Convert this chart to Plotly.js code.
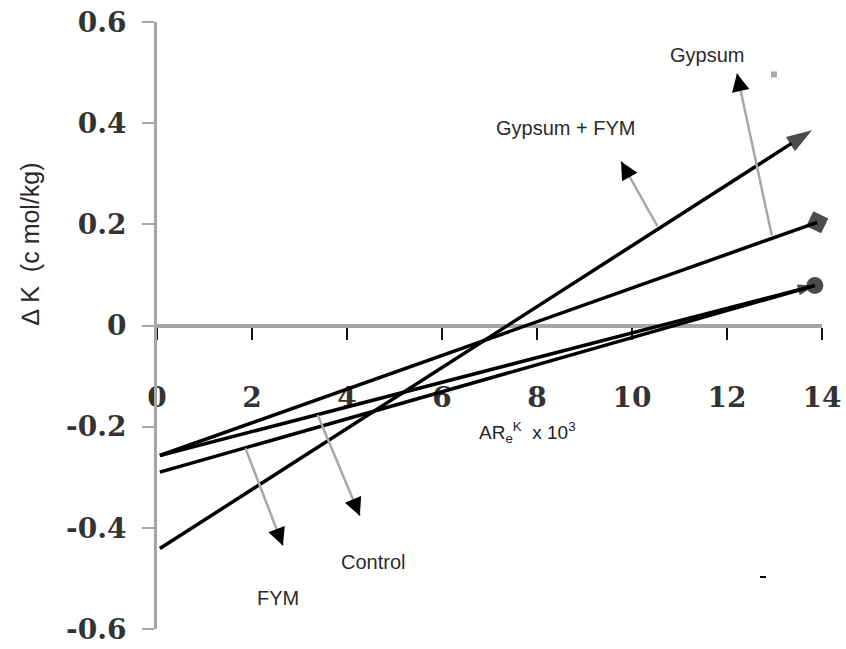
<!DOCTYPE html>
<html>
<head>
<meta charset="utf-8">
<script src="https://cdn.plot.ly/plotly-3.0.1.min.js"></script>
<style>
  html, body { margin: 0; padding: 0; background: #ffffff; }
  #chart { width: 846px; height: 649px; }
</style>
</head>
<body>
<div id="chart"></div>
<script>
// Fitted lines of potassium change against activity ratio, one per treatment
const treatments = ['Gypsum + FYM', 'Gypsum', 'Control', 'FYM'];

const xGypsumFym = [0.06, 13.79];
const yGypsumFym = [-0.441, 0.386];

const xGypsum = [0.06, 13.9];
const yGypsum = [-0.257, 0.204];

const xControl = [0.06, 13.85];
const yControl = [-0.257, 0.079];

const xFym = [0.06, 13.85];
const yFym = [-0.29, 0.079];

const xTickVals = [0, 2, 4, 6, 8, 10, 12, 14];
const yTickVals = [-0.6, -0.4, -0.2, 0, 0.2, 0.4, 0.6];
const yTickText = ['-0.6', '-0.4', '-0.2', '0', '0.2', '0.4', '0.6'];

// Callout labels: text position, arrow head, arrow tail (on the line)
const labelText = ['Gypsum', 'Gypsum + FYM', 'Control', 'FYM'];
const labelX = [11.58, 8.59, 4.55, 2.55];
const labelY = [0.534, 0.391, -0.467, -0.538];
const headX = [12.21, 9.77, 4.27, 2.65];
const headY = [0.498, 0.324, -0.376, -0.435];
const tailX = [12.95, 10.55, 3.37, 1.85];
const tailY = [0.175, 0.194, -0.174, -0.24];
// fraction of each shaft reserved for the black head
const headFrac = [0.1, 0.22, 0.15, 0.15];

function lineTrace(name, xs, ys, symbol, size) {
  return {
    type: 'scatter',
    mode: 'lines+markers',
    name: name,
    x: xs,
    y: ys,
    line: { color: '#000000', width: 3.5 },
    marker: {
      color: '#000000',
      symbol: symbol,
      size: [0, size],
      angleref: 'previous',
      line: { width: 0 }
    },
    cliponaxis: false,
    hoverinfo: 'skip'
  };
}

const traces = [
  lineTrace(treatments[0], xGypsumFym, yGypsumFym, 'arrow', 27),
  lineTrace(treatments[1], xGypsum, yGypsum, 'diamond', 18),
  lineTrace(treatments[2], xControl, yControl, 'arrow', 18),
  lineTrace(treatments[3], xFym, yFym, 'circle', 17)
];

const labelFont = { family: 'Liberation Sans, Arial, sans-serif', size: 20, color: '#2a2a2a' };

const annotations = [];
for (let i = 0; i < labelText.length; i++) {
  // grey shaft
  annotations.push({
    xref: 'x', yref: 'y', axref: 'x', ayref: 'y',
    x: headX[i], y: headY[i], ax: tailX[i], ay: tailY[i],
    text: '', showarrow: true, arrowhead: 0,
    arrowwidth: 2.5, arrowcolor: '#a8a8a8', standoff: 0
  });
  // black head
  annotations.push({
    xref: 'x', yref: 'y', axref: 'x', ayref: 'y',
    x: headX[i], y: headY[i],
    ax: headX[i] + (tailX[i] - headX[i]) * headFrac[i],
    ay: headY[i] + (tailY[i] - headY[i]) * headFrac[i],
    text: '', showarrow: true, arrowhead: 2, arrowsize: 1.6,
    arrowwidth: 2.2, arrowcolor: '#000000', standoff: 0
  });
  annotations.push({
    xref: 'x', yref: 'y', x: labelX[i], y: labelY[i],
    xanchor: 'center', yanchor: 'middle',
    text: labelText[i], showarrow: false,
    font: labelFont
  });
}

// x-axis title sits below the tick labels, inside the plot
annotations.push({
  xref: 'x', yref: 'y', x: 7.79, y: -0.211,
  xanchor: 'center', yanchor: 'middle',
  text: 'AR<sub>e</sub><sup>K</sup>  x 10<sup>3</sup>',
  showarrow: false,
  font: { family: 'Liberation Sans, Arial, sans-serif', size: 19, color: '#222222' }
});

// y-axis title
annotations.push({
  xref: 'paper', yref: 'paper', x: -0.191, y: 0.636,
  xanchor: 'center', yanchor: 'middle',
  text: '\u2206 K  (c mol/kg)', textangle: -90,
  showarrow: false,
  font: { family: 'Liberation Sans, Arial, sans-serif', size: 25, color: '#2a2a2a' }
});

// two small stray marks in the plot area
const shapes = [
  { type: 'rect', xref: 'paper', yref: 'paper', x0: 0.9233, x1: 0.9323, y0: 0.9086, y1: 0.9185,
    fillcolor: '#a8a8a8', line: { width: 0 } },
  { type: 'line', xref: 'paper', yref: 'paper', x0: 0.9068, x1: 0.9158, y0: 0.0857, y1: 0.0857,
    line: { color: '#000000', width: 2 } }
];

const tickFont = { family: 'DejaVu Serif, serif', size: 28, color: '#333333', weight: 'bold' };

const layout = {
  width: 846,
  height: 649,
  margin: { l: 157, r: 24, t: 22, b: 20 },
  paper_bgcolor: '#ffffff',
  plot_bgcolor: '#ffffff',
  showlegend: false,
  xaxis: {
    range: [0, 14],
    anchor: 'free',
    position: 0.5,
    tickvals: xTickVals,
    ticktext: xTickVals.map(String),
    ticks: 'outside',
    ticklen: 12,
    tickwidth: 2.5,
    tickcolor: '#111111',
    showline: true,
    linecolor: '#a6a6a6',
    linewidth: 4,
    showgrid: false,
    zeroline: false,
    tickfont: tickFont,
    ticklabelstandoff: 34,
    layer: 'below traces'
  },
  yaxis: {
    range: [-0.6, 0.6],
    tickvals: yTickVals,
    ticktext: yTickText,
    ticks: 'outside',
    ticklen: 12,
    tickwidth: 2,
    tickcolor: '#a6a6a6',
    showline: true,
    linecolor: '#a6a6a6',
    linewidth: 3,
    showgrid: false,
    zeroline: false,
    tickfont: tickFont,
    ticklabelstandoff: 10
  },
  shapes: shapes,
  annotations: annotations
};

Plotly.newPlot('chart', traces, layout, { staticPlot: true, displayModeBar: false });
</script>
</body>
</html>
